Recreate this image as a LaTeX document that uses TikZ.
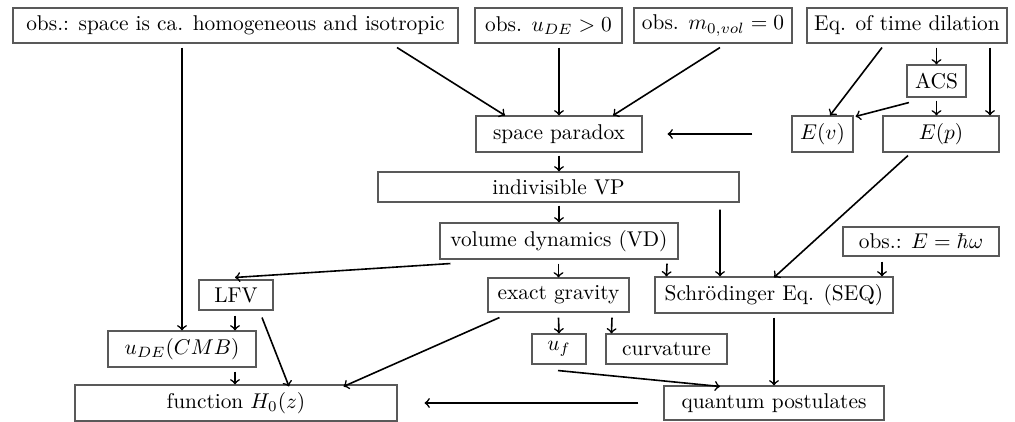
\documentclass[tikz,border=0pt]{standalone}
\usetikzlibrary{calc}
\newlength\px
\setlength\px{0.468pt}
\begin{document}
\begin{tikzpicture}[x=\px,y=-\px,
  box/.style={draw=black!65,line width=0.5pt,inner sep=0pt},
  arr/.style={->,line width=0.75pt,black}]
\useasboundingbox (0,0) rectangle (1015,422);
\node[box,minimum width=445\px,minimum height=35\px] (obs1) at (235.5,25.5) {obs.: space is ca. homogeneous and isotropic};
\node[box,minimum width=147\px,minimum height=35\px] (obs2) at (548.5,25.5) {obs. $u_{DE}>0$};
\node[box,minimum width=158\px,minimum height=35\px] (obs3) at (713,25.5) {obs. $m_{0,vol}=0$};
\node[box,minimum width=200\px,minimum height=35\px] (eq) at (907,25.5) {Eq. of time dilation};
\node[box,minimum width=59\px,minimum height=32\px] (acs) at (936.5,81) {ACS};
\node[box,minimum width=61\px,minimum height=36\px] (ev) at (822.5,134) {$E(v)$};
\node[box,minimum width=116\px,minimum height=36\px] (ep) at (941,134) {$E(p)$};
\node[box,minimum width=166\px,minimum height=36\px] (sp) at (559,134) {space paradox};
\node[box,minimum width=361\px,minimum height=30\px] (ivp) at (558.5,187) {indivisible VP};
\node[box,minimum width=238\px,minimum height=36\px] (vd) at (559,241) {volume dynamics (VD)};
\node[box,minimum width=156\px,minimum height=29\px] (hw) at (921,241.5) {obs.: $E=\hbar\omega$};
\node[box,minimum width=74\px,minimum height=30\px] (lfv) at (236,295) {LFV};
\node[box,minimum width=141\px,minimum height=34\px] (eg) at (558.5,295) {exact gravity};
\node[box,minimum width=238\px,minimum height=36\px] (seq) at (774,295) {Schr\"odinger Eq. (SEQ)};
\node[box,minimum width=148\px,minimum height=36\px] (ucmb) at (182,349) {$u_{DE}(CMB)$};
\node[box,minimum width=54\px,minimum height=30\px] (uf) at (559,349) {$u_f$};
\node[box,minimum width=121\px,minimum height=30\px] (curv) at (666.5,349) {curvature};
\node[box,minimum width=322\px,minimum height=36\px] (h0) at (236,403) {function $H_0(z)$};
\node[box,minimum width=220\px,minimum height=34\px] (qp) at (774,403) {quantum postulates};
% connectors
\draw[arr] ($(obs1.south -| ucmb.north)+(0,4)$) -- (ucmb.north);
\draw[arr] ($(obs1.south)+(161.5,4)$) -- ($(sp.north)+(-54,0)$);
\draw[arr] ($(obs2.south -| sp.north)+(0,4)$) -- (sp.north);
\draw[arr] ($(obs3.south)+(7,4)$) -- ($(sp.north)+(54,0)$);
\draw[arr] ($(eq.south)+(-25,4)$) -- ($(ev.north)+(7.5,0)$);
\draw[arr] ($(eq.south -| acs.north)+(0,4)$) -- (acs.north);
\draw[arr] ($(eq.south)+(83,4)$) -- ($(ep.north)+(49,0)$);
\draw[arr] ($(acs.south)+(-27.5,5)$) -- ($(ev.north east)+(2,1)$);
\draw[arr] ($(acs.south)+(0,3)$) -- (ep.north -| acs.south);
\draw[arr] ($(ev.west)+(-39,0)$) -- ($(sp.east)+(25,0)$);
\draw[arr] ($(sp.south)+(0,3)$) -- (ivp.north -| sp.south);
\draw[arr] ($(ivp.south -| vd.north)+(0,3)$) -- (vd.north);
\draw[arr] ($(ivp.south)+(161.5,7)$) -- ($(seq.north)+(-54,0)$);
\draw[arr] ($(ep.south)+(-33,3)$) -- ($(seq.north)+(0,1)$);
\draw[arr] ($(hw.south)+(-39,5)$) -- ($(seq.north)+(108,0)$);
\draw[arr] ($(vd.south)+(108,4)$) -- ($(seq.north west)+(12,0)$);
\draw[arr] ($(vd.south -| eg.north)+(0,4)$) -- (eg.north);
\draw[arr] ($(vd.south west)+(11,4)$) -- ($(lfv.north)+(-1,-2)$);
\draw[arr] ($(lfv.south)+(-1,5)$) -- ($(ucmb.north)+(53,0)$);
\draw[arr] ($(lfv.south)+(26,7)$) -- ($(h0.north)+(53,2)$);
\draw[arr] ($(ucmb.south)+(53,4)$) -- ($(h0.north)+(-1,0)$);
\draw[arr] ($(eg.south)+(0,5)$) -- (uf.north);
\draw[arr] ($(eg.south)+(53.5,5)$) -- ($(curv.north west)+(6,0)$);
\draw[arr] ($(eg.south west)+(12,5)$) -- ($(h0.north east)+(-54,2)$);
\draw[arr] ($(uf.south)+(-1,6)$) -- ($(qp.north)+(-54,1)$);
\draw[arr] ($(seq.south)+(0,4)$) -- (qp.north);
\draw[arr] ($(qp.west)+(-25,0)$) -- ($(h0.east)+(27,0)$);
\end{tikzpicture}
\end{document}
